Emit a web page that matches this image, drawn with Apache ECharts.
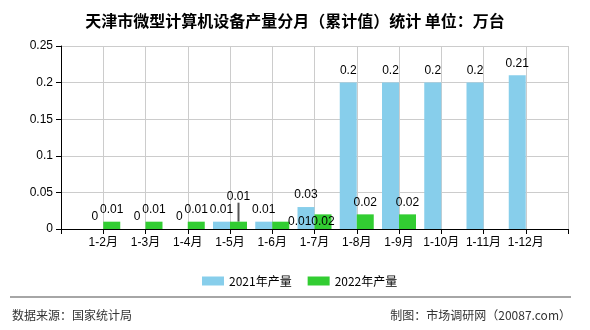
<!DOCTYPE html>
<html>
<head>
    <meta charset="utf-8">
    <title>ECharts</title>
    <script src="https://cdn.jsdelivr.net/npm/echarts@6/dist/echarts.min.js"></script>
</head>
<body style="margin:0">
    <div id="main" style="width: 590px;height:330px;"></div>
    <script type="text/javascript">
        // 数据（首尾留空类目，让柱子落在网格线上）
        var categories = ['', '1-2月', '1-3月', '1-4月', '1-5月', '1-6月', '1-7月', '1-8月', '1-9月', '1-10月', '1-11月', '1-12月', ''];
        var output2021 = ['-', 0, 0, 0, 0.01, 0.01, 0.03, 0.2, 0.2, 0.2, 0.2, 0.21, '-'];
        var output2022 = ['-', 0.01, 0.01, 0.01, 0.01, 0.01, 0.02, 0.02, 0.02, '-', '-', '-', '-'];
        var yTicks = [0, 0.05, 0.1, 0.15, 0.2, 0.25];

        var font = 'Liberation Sans, Noto Sans CJK SC, sans-serif';

        var data2022 = output2022.map(function (v, i) {
            if (i === 4) return { value: v, labelLine: { show: true, lineStyle: { color: '#555', width: 2 } } };
            if (i === 6) return { value: v, label: { position: 'inside' } };
            return v;
        });

        var myChart = echarts.init(document.getElementById('main'));
        myChart.setOption({
            animation: false,
            backgroundColor: '#fff',
            title: {
                text: '天津市微型计算机设备产量分月（累计值）统计 单位：万台',
                left: 'center',
                top: 8,
                textStyle: { fontSize: 16, fontWeight: 'bold', color: '#000', fontFamily: 'Noto Sans CJK SC' }
            },
            legend: {
                left: 197,
                top: 270,
                itemWidth: 22,
                itemHeight: 9,
                itemGap: 16,
                icon: 'rect',
                textStyle: { fontSize: 12, color: '#000', fontFamily: 'Noto Sans CJK SC' },
                data: ['2021年产量', '2022年产量']
            },
            grid: { left: 61, right: 22, top: 46, bottom: 101 },
            xAxis: {
                type: 'category',
                data: categories,
                boundaryGap: false,
                axisLine: { lineStyle: { color: '#000' } },
                axisTick: { show: true, lineStyle: { color: '#000' } },
                axisLabel: { color: '#000', fontSize: 12, fontFamily: font, margin: 8, interval: 0 },
                splitLine: { show: true, lineStyle: { color: '#ccc' } }
            },
            yAxis: {
                type: 'value',
                min: yTicks[0],
                max: yTicks[yTicks.length - 1],
                interval: 0.05,
                axisLine: { show: true, lineStyle: { color: '#000' } },
                axisTick: { show: true, lineStyle: { color: '#000' } },
                axisLabel: { color: '#000', fontSize: 12, fontFamily: font },
                splitLine: { lineStyle: { color: '#ccc' } }
            },
            series: [
                {
                    name: '2021年产量',
                    type: 'bar',
                    barWidth: 17,
                    barGap: '0%',
                    itemStyle: { color: '#87CEEB' },
                    label: { show: true, position: 'top', distance: 6, color: '#000', fontSize: 12, fontFamily: font },
                    data: output2021
                },
                {
                    name: '2022年产量',
                    type: 'bar',
                    barWidth: 17,
                    barGap: '0%',
                    itemStyle: { color: '#32CD32' },
                    label: { show: true, position: 'top', distance: 6, color: '#000', fontSize: 12, fontFamily: font },
                    labelLayout: function (params) {
                        if (params.dataIndex === 4) return { dy: -13 };
                        if (params.dataIndex === 5) return { dx: 19, dy: 12 };
                        return {};
                    },
                    data: data2022
                }
            ],
            graphic: [
                {
                    type: 'line',
                    shape: { x1: 10, y1: 297, x2: 571, y2: 297 },
                    style: { stroke: '#888', lineWidth: 1.5 }
                },
                {
                    type: 'text',
                    left: 12,
                    top: 309,
                    style: { text: '数据来源：国家统计局', fontSize: 12, fill: '#333', fontFamily: 'Noto Sans CJK SC' }
                },
                {
                    type: 'text',
                    right: 19,
                    top: 309,
                    style: { text: '制图：市场调研网（20087.com）', fontSize: 12, fill: '#333', fontFamily: 'Noto Sans CJK SC' }
                }
            ]
        });
    </script>
</body>
</html>
